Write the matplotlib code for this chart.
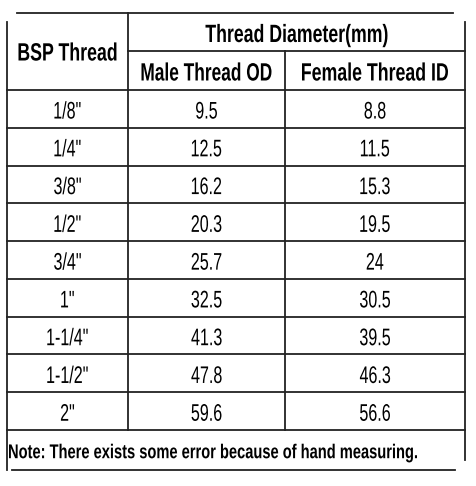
import matplotlib.pyplot as plt
from matplotlib.textpath import TextPath
from matplotlib.font_manager import FontProperties
from matplotlib.patches import PathPatch
from matplotlib.transforms import Affine2D

threads = ['1/8"', '1/4"', '3/8"', '1/2"', '3/4"', '1"', '1-1/4"', '1-1/2"', '2"']
male_od = ['9.5', '12.5', '16.2', '20.3', '25.7', '32.5', '41.3', '47.8', '59.6']
female_id = ['8.8', '11.5', '15.3', '19.5', '24', '30.5', '39.5', '46.3', '56.6']
note = "Note: There exists some error because of hand measuring."

W, H = 477, 486
fig = plt.figure(figsize=(W / 100, H / 100), dpi=100)
ax = fig.add_axes([0, 0, 1, 1])
ax.set_xlim(0, W)
ax.set_ylim(H, 0)
ax.axis('off')


def narrow_text(s, x, y, size, bold=False, ha='center', sx=0.67, width=None):
    # condensed look: draw the glyph outlines squeezed horizontally
    prop = FontProperties(family='Liberation Sans', weight='bold' if bold else 'normal')
    tp = TextPath((0, 0), s, size=size, prop=prop)
    ext = tp.get_extents()
    if width is not None:
        sx = width / ext.width
    w = ext.width * sx
    x0 = x - w / 2 if ha == 'center' else x
    tr = Affine2D().translate(-ext.x0, 0).scale(sx, -1).translate(x0, y + 0.36 * size)
    ax.add_patch(PathPatch(tr.transform_path(tp), color='black', lw=0))
    # real text too (invisible) so the content stays as text
    ax.text(x, y, s, alpha=0, ha=ha, va='center', fontsize=1)


xl, x1, x2, xr = 7, 128, 285, 465
ytop, yh, ydata, ynote, ybot = 13, 51, 90, 430, 470
rh = (ynote - ydata) / len(threads)

lw = 1.3
c = '#222'
ax.plot([17, 453], [ytop, ytop], color=c, lw=lw)
ax.plot([xl, xl], [22, ybot], color=c, lw=lw)
ax.plot([xr, xr], [22, 460], color=c, lw=lw)
ax.plot([12, 455], [ybot, ybot], color=c, lw=lw)
ax.plot([x1, x1], [ytop, ynote], color=c, lw=lw)
ax.plot([x2, x2], [yh, ynote], color=c, lw=lw)
ax.plot([x1, xr], [yh, yh], color=c, lw=lw)
for i in range(len(threads) + 1):
    y = ydata + i * rh
    ax.plot([xl, xr], [y, y], color=c, lw=lw)

narrow_text('BSP Thread', (xl + x1) / 2, (ytop + ydata) / 2, 25, bold=True, width=98)
narrow_text('Thread Diameter(mm)', (x1 + xr) / 2, (ytop + yh) / 2 + 1, 25, bold=True, width=182)
narrow_text('Male Thread OD', (x1 + x2) / 2, (yh + ydata) / 2 + 1, 25, bold=True, width=130)
narrow_text('Female Thread ID', (x2 + xr) / 2, (yh + ydata) / 2 + 1, 25, bold=True, width=146)

for i, (t, m, f) in enumerate(zip(threads, male_od, female_id)):
    y = ydata + (i + 0.5) * rh + 1
    narrow_text(t, (xl + x1) / 2, y, 24)
    narrow_text(m, (x1 + x2) / 2, y, 24)
    narrow_text(f, (x2 + xr) / 2, y, 24)

narrow_text(note, xl + 2, (ynote + ybot) / 2 + 1, 20, bold=True, ha='left', width=408)

fig.savefig('out.png', dpi=100)
